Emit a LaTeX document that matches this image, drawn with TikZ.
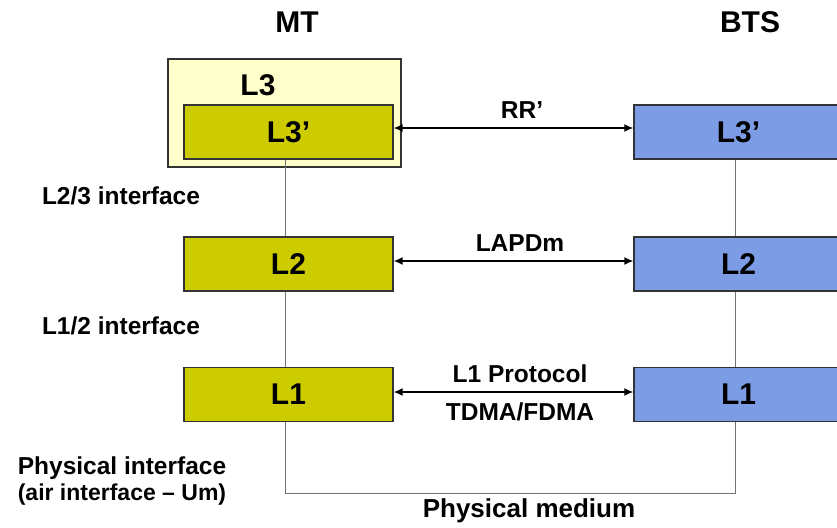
\documentclass[tikz,border=0pt]{standalone}
\usepackage{fontspec}
\setmainfont{Liberation Sans}
\usetikzlibrary{arrows.meta}
\definecolor{olive}{HTML}{CCCC00}
\definecolor{btsblue}{HTML}{7C9DE6}
\definecolor{paleyellow}{HTML}{FFFFCC}
\begin{document}
\begin{tikzpicture}[x=1pt,y=-1pt,
  big/.style={font=\bfseries\fontsize{30}{34}\selectfont},
  small/.style={font=\bfseries\fontsize{24.5}{26}\selectfont},
  layerbox/.style={draw=black!80, line width=1.3pt, minimum width=209pt, minimum height=54pt, inner sep=0pt, big},
  mtbox/.style={layerbox, fill=olive},
  btsbox/.style={layerbox, fill=btsblue},
  link/.style={line width=1.5pt, {Latex[length=9pt,width=8pt]}-{Latex[length=9pt,width=8pt]}},
  wire/.style={draw=black!55, line width=0.9pt}]
\useasboundingbox (0,0) rectangle (837,527);

% column titles
\node[big] (mt) at (297,22) {MT};
\node[big] (bts) at (750,22) {BTS};

% L3 container on the MT side
\node[draw=black!80, line width=1.3pt, fill=paleyellow, minimum width=233pt, minimum height=108pt, inner sep=0pt] (l3outer) at (284.5,113) {};
\node[big] (l3) at (258,85) {L3};

% protocol layers
\node[mtbox] (mtl3) at (288.5,132) {L3'};
\node[mtbox] (mtl2) at (288.5,264) {L2};
\node[mtbox] (mtl1) at (288.5,394.5) {L1};
\node[btsbox] (btsl3) at (738.5,132) {L3'};
\node[btsbox] (btsl2) at (738.5,264) {L2};
\node[btsbox] (btsl1) at (738.5,394.5) {L1};

% vertical interfaces and the physical medium
\coordinate (pmL) at (285,493);
\coordinate (pmR) at (735,493);
\draw[wire] (mtl3.south -| pmL) -- (mtl2.north -| pmL);
\draw[wire] (mtl2.south -| pmL) -- (mtl1.north -| pmL);
\draw[wire] (mtl1.south -| pmL) -- (pmL) -- (pmR) -- (btsl1.south -| pmR);
\draw[wire] (btsl3.south -| pmR) -- (btsl2.north -| pmR);
\draw[wire] (btsl2.south -| pmR) -- (btsl1.north -| pmR);

% peer protocols
\draw[link] (mtl3.east |- 0,128) -- (btsl3.west |- 0,128);
\draw[link] (mtl2.east |- 0,261) -- (btsl2.west |- 0,261);
\draw[link] (mtl1.east |- 0,392) -- (btsl1.west |- 0,392);
\node[small] (rr) at (522,110) {RR'};
\node[small] (lapdm) at (520,243) {LAPDm};
\node[small] (l1p) at (520,374) {L1 Protocol};
\node[small] (tdma) at (520,412) {TDMA/FDMA};

% interface labels
\node[small] (if23) at (121,196) {L2/3 interface};
\node[small] (if12) at (121,326) {L1/2 interface};
\node[small, align=center] (phy) at (122,481) {Physical interface\\{\fontsize{23}{26}\selectfont(air interface – Um)}};
\node[small, font=\bfseries\fontsize{26}{28}\selectfont] (pm) at (529,511) {Physical medium};
\end{tikzpicture}
\end{document}
